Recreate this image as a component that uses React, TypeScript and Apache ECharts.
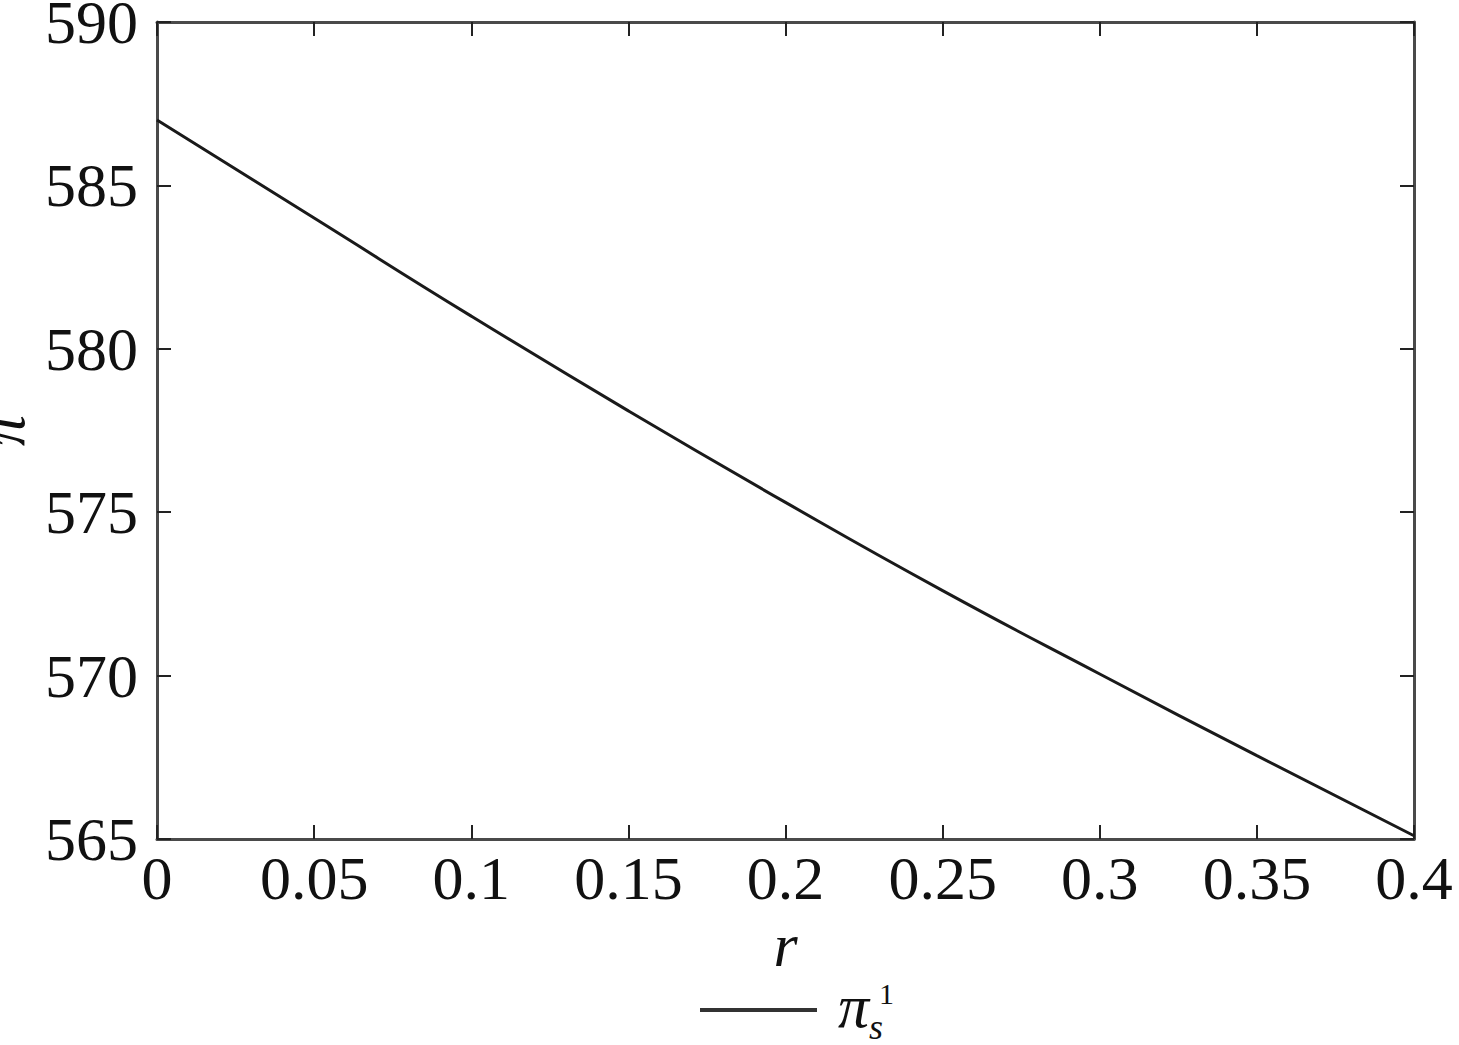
import React, { useEffect, useRef } from "react";
import * as echarts from "echarts";

const rValues = [0, 0.05, 0.1, 0.15, 0.2, 0.25, 0.3, 0.35, 0.4];
const piValues = [587.0, 584.0, 581.0, 578.1, 575.3, 572.6, 570.05, 567.55, 565.1];
const seriesName = "πs1";

const FONT = "Liberation Serif";
const AXIS_COLOR = "#4a4a4a";

export default function App() {
  const ref = useRef<HTMLDivElement>(null);
  useEffect(() => {
    if (!ref.current) return;
    const chart = echarts.init(ref.current, null, { renderer: "svg" });
    const data = rValues.map((r, i) => [r, piValues[i]]);
    const baseX = {
      type: "value",
      min: 0,
      max: 0.4,
      interval: 0.05,
      axisLine: { show: true, onZero: false, lineStyle: { color: AXIS_COLOR, width: 3 } },
      axisTick: { show: true, inside: true, length: 14, lineStyle: { color: "#222", width: 2 } },
      splitLine: { show: false },
    };
    const baseY = {
      type: "value",
      min: 565,
      max: 590,
      interval: 5,
      axisLine: { show: true, onZero: false, lineStyle: { color: AXIS_COLOR, width: 3 } },
      axisTick: { show: true, inside: true, length: 14, lineStyle: { color: "#222", width: 2 } },
      splitLine: { show: false },
    };
    chart.setOption({
      animation: false,
      backgroundColor: "#ffffff",
      grid: { left: 157, right: 45, top: 22, bottom: 206, containLabel: false, outerBoundsMode: "none" },
      xAxis: [
        {
          ...baseX,
          position: "bottom",
          name: "r",
          nameLocation: "middle",
          nameGap: 72,
          nameTextStyle: { fontFamily: FONT, fontSize: 62, fontStyle: "italic", color: "#111" },
          axisLabel: {
            show: true,
            margin: 8,
            fontFamily: FONT,
            fontSize: 62,
            color: "#111",
            formatter: (v: number) => String(parseFloat(v.toFixed(2))),
          },
        },
        { ...baseX, position: "top", axisLabel: { show: false } },
      ],
      yAxis: [
        {
          ...baseY,
          position: "left",
          name: "π",
          nameLocation: "middle",
          nameGap: 118,
          nameRotate: 90,
          nameTextStyle: { fontFamily: FONT, fontSize: 62, fontStyle: "italic", color: "#111" },
          axisLabel: { show: true, margin: 19, fontFamily: FONT, fontSize: 62, color: "#111" },
        },
        { ...baseY, position: "right", axisLabel: { show: false } },
      ],
      legend: {
        show: true,
        top: 975,
        left: 700,
        padding: 0,
        icon: "rect",
        itemWidth: 117,
        itemHeight: 4,
        itemGap: 10,
        data: [seriesName],
        formatter: () => "{p|π}{s|s}",
        textStyle: {
          rich: {
            p: {
              fontFamily: FONT,
              fontSize: 62,
              fontStyle: "italic",
              color: "#111",
              lineHeight: 70,
              verticalAlign: "top",
              padding: [0, 0, 0, 16],
            },
            s: {
              fontFamily: FONT,
              fontSize: 36,
              fontStyle: "italic",
              color: "#111",
              lineHeight: 70,
              verticalAlign: "bottom",
            },
          },
        },
      },
      graphic: [
        {
          type: "text",
          left: 879,
          top: 978,
          style: { text: "1", fontFamily: FONT, fontSize: 30, fill: "#111" },
        },
      ],
      series: [
        {
          name: seriesName,
          type: "line",
          data,
          smooth: true,
          symbol: "none",
          xAxisIndex: 0,
          yAxisIndex: 0,
          lineStyle: { color: "#1a1a1a", width: 3 },
          itemStyle: { color: "#333" },
        },
      ],
    });
    return () => chart.dispose();
  }, []);
  return <div ref={ref} style={{ width: 1459, height: 1045, position: "absolute", left: 0, top: 0 }} />;
}
